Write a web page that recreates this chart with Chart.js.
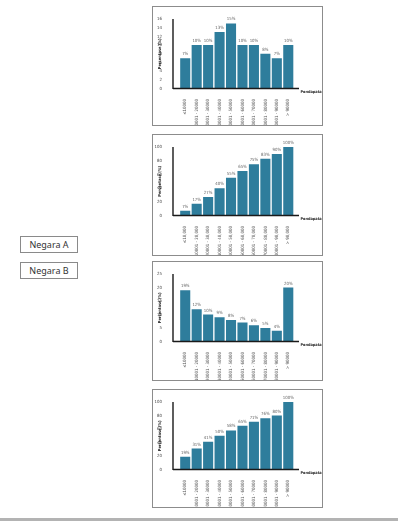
<!DOCTYPE html>
<html>
<head>
<meta charset="utf-8">
<script src="https://cdn.jsdelivr.net/npm/chart.js@4/dist/chart.umd.min.js"></script>
<style>
  html, body { margin:0; padding:0; background:#fff; }
  body { width:398px; height:521px; position:relative; overflow:hidden; }
  .box { position:absolute; left:152px; width:171px; border:1px solid #8c8c8c; box-sizing:border-box; }
  .box canvas { position:absolute; left:0; top:0; }
  .tag { position:absolute; left:20px; width:58px; height:17px; border:1px solid #8a8a8a; box-sizing:border-box;
         font-family:'Noto Sans', sans-serif; font-size:9px; color:#333; text-align:center; line-height:15px; }
  .rule { position:absolute; left:0; top:518px; width:398px; height:3px; background:#b3b3b3; }
</style>
</head>
<body>
<div class="box" style="top:6px;height:120px;"><canvas id="c1" width="169" height="118"></canvas></div>
<div class="box" style="top:134px;height:122px;"><canvas id="c2" width="169" height="120"></canvas></div>
<div class="box" style="top:261px;height:120px;"><canvas id="c3" width="169" height="118"></canvas></div>
<div class="box" style="top:389px;height:119px;"><canvas id="c4" width="169" height="117"></canvas></div>
<div class="tag" style="top:236px;">Negara A</div>
<div class="tag" style="top:262px;">Negara B</div>
<div class="rule"></div>
<script>
const categoriesPlain = ['≤10000','10001 - 20000','20001 - 30000','30001 - 40000','40001 - 50000','50001 - 60000','60001 - 70000','70001 - 80000','80001 - 90000','> 90000'];
const categoriesComma = ['≤10,000','10001 - 20,000','20001 - 30,000','30001 - 40,000','40001 - 50,000','50001 - 60,000','60001 - 70,000','70001 - 80,000','80001 - 90,000','> 90,000'];
const negaraA_persen = [7,10,10,13,15,10,10,8,7,10];
const negaraA_kumulatif = [7,17,27,40,55,65,75,83,90,100];
const negaraB_persen = [19,12,10,9,8,7,6,5,4,20];
const negaraB_kumulatif = [19,31,41,50,58,65,71,76,80,100];
const yMaxes = [16,100,25,100];
const ySteps = [2,20,5,20];
const yTitle = 'Persentase (%)';
const xTitle = 'Pendapatan';

const FONT = "'Liberation Sans Narrow','DejaVu Sans Condensed',sans-serif";
const BAR = '#2e7d9c';

const decor = {
  id:'decor',
  afterDatasetsDraw(chart){
    const ctx = chart.ctx, ca = chart.chartArea;
    const x0 = ca.left - 6.5, x1 = ca.right + 5;
    ctx.save();
    ctx.strokeStyle = '#1a1a1a';
    ctx.lineWidth = 1.4;
    ctx.beginPath();
    ctx.moveTo(x0, ca.top); ctx.lineTo(x0, ca.bottom + 0.5);
    ctx.moveTo(x0, ca.bottom); ctx.lineTo(x1, ca.bottom);
    ctx.stroke();
    // value labels
    const meta = chart.getDatasetMeta(0);
    const vals = chart.data.datasets[0].data;
    ctx.fillStyle = '#666';
    ctx.font = '4.3px ' + FONT;
    ctx.textAlign = 'center';
    ctx.textBaseline = 'bottom';
    meta.data.forEach((el,i)=>{ ctx.fillText(vals[i] + '%', el.x, el.y - 2); });
    // x title
    ctx.fillStyle = '#222';
    ctx.font = 'bold 3.9px ' + FONT;
    ctx.textAlign = 'left';
    ctx.textBaseline = 'middle';
    ctx.fillText(xTitle, x1 + 1.5, ca.bottom + 3.5);
    // y title
    ctx.font = 'bold 4px ' + FONT;
    ctx.translate(x0 - 13, (ca.top + ca.bottom)/2);
    ctx.rotate(-Math.PI/2);
    ctx.textAlign = 'center';
    ctx.fillText(yTitle, 0, 0);
    ctx.restore();
  }
};

function makeChart(id, labels, values, yMax, yStep, top, bottom){
  const cv = document.getElementById(id);
  const H = cv.height;
  return new Chart(cv, {
    type:'bar',
    data:{ labels:labels, datasets:[{ data:values, backgroundColor:BAR, barPercentage:0.88, categoryPercentage:1 }] },
    options:{
      responsive:false, animation:false, devicePixelRatio:1,
      layout:{ padding:{ left:0, right:28, top:top, bottom:0 } },
      plugins:{ legend:{display:false}, tooltip:{enabled:false} },
      scales:{
        x:{
          grid:{display:false}, border:{display:false},
          ticks:{ minRotation:90, maxRotation:90, autoSkip:false, padding:2.5, color:'#555', font:{family:FONT, size:4.4} },
          afterFit(s){ s.height = H - bottom; }
        },
        y:{
          min:0, max:yMax,
          grid:{display:false}, border:{display:false},
          ticks:{ stepSize:yStep, autoSkip:false, padding:9.5, color:'#444', font:{family:FONT, size:4.3} },
          afterFit(s){ s.width = 26.5; }
        }
      }
    },
    plugins:[decor]
  });
}

makeChart('c1', categoriesPlain, negaraA_persen, yMaxes[0], ySteps[0], 9, 81.5);
makeChart('c2', categoriesComma, negaraA_kumulatif, yMaxes[1], ySteps[1], 10, 80.5);
makeChart('c3', categoriesPlain, negaraB_persen, yMaxes[2], ySteps[2], 10, 79.5);
makeChart('c4', categoriesPlain, negaraB_kumulatif, yMaxes[3], ySteps[3], 8.3, 79.5);
</script>
</body>
</html>
